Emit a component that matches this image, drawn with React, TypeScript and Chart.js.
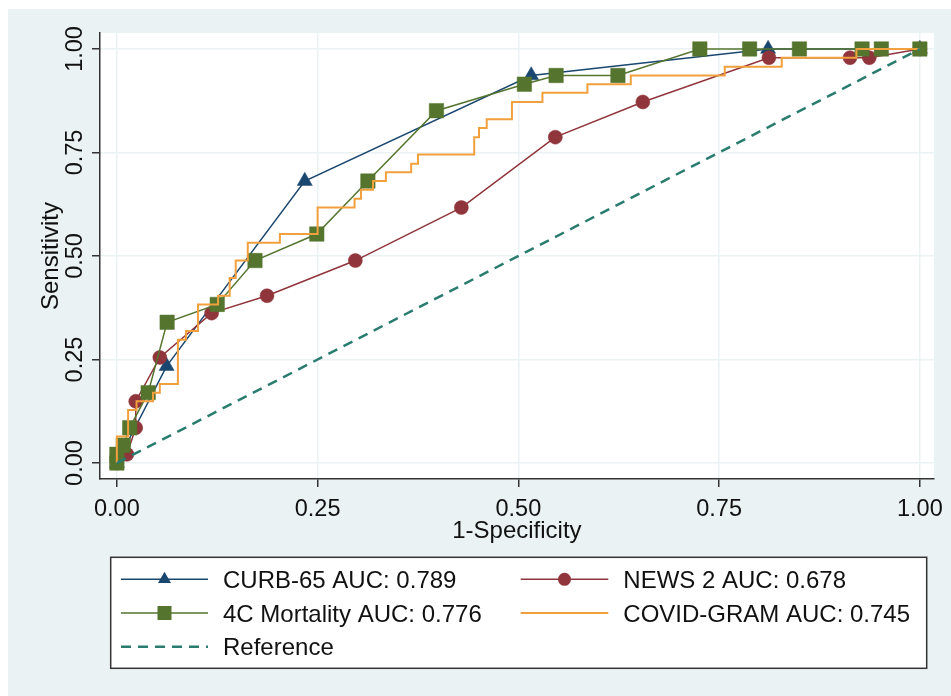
import React, { useEffect, useRef } from 'react';
import { Chart, registerables } from 'chart.js';

Chart.register(...registerables);

const FONT = '"Liberation Sans", Arial, Helvetica, sans-serif';

// ---- data (1-specificity, sensitivity) ----
const curbX = [0, 0.062, 0.234, 0.516, 0.811, 1];
const curbY = [0, 0.234, 0.681, 0.936, 1, 1];

const newsX = [0, 0.0125, 0.0235, 0.0235, 0.0535, 0.118, 0.187, 0.297, 0.429, 0.546, 0.655, 0.812, 0.913, 0.937, 1];
const newsY = [0, 0.021, 0.085, 0.149, 0.255, 0.362, 0.404, 0.489, 0.617, 0.787, 0.872, 0.979, 0.979, 0.979, 1];

const c4X = [0, 0, 0.008, 0.016, 0.039, 0.0626, 0.125, 0.172, 0.249, 0.3126, 0.398, 0.5075, 0.547, 0.624, 0.726, 0.788, 0.85, 0.928, 0.952, 1];
const c4Y = [0, 0.021, 0.043, 0.085, 0.17, 0.34, 0.383, 0.489, 0.553, 0.681, 0.851, 0.915, 0.936, 0.936, 1, 1, 1, 1, 1, 1];

const covidX = [0, 0, 0.014, 0.0245, 0.045, 0.0535, 0.076, 0.086, 0.101, 0.126, 0.1405, 0.148, 0.163, 0.203, 0.25, 0.296, 0.304, 0.319, 0.335, 0.3665, 0.375, 0.445, 0.451, 0.4606, 0.492, 0.53, 0.586, 0.64, 0.757, 0.828, 0.921, 1];
const covidY = [0, 0.064, 0.128, 0.149, 0.17, 0.191, 0.298, 0.319, 0.383, 0.404, 0.447, 0.489, 0.532, 0.553, 0.617, 0.638, 0.66, 0.681, 0.702, 0.723, 0.745, 0.787, 0.809, 0.83, 0.872, 0.894, 0.915, 0.936, 0.957, 0.979, 1, 1];

const refX = [0, 1];
const refY = [0, 1];

const tickValues = [0, 0.25, 0.5, 0.75, 1];
const xTitle = '1-Specificity';
const yTitle = 'Sensitivity';
const seriesNames = ['CURB-65 AUC: 0.789', 'NEWS 2 AUC: 0.678', '4C Mortality AUC: 0.776', 'COVID-GRAM AUC: 0.745', 'Reference'];

const COLORS = {
  curb: '#1a476f',
  news: '#90353b',
  c4: '#55752f',
  covid: '#f2a03d',
  ref: '#2a7c6f',
};

const toPoints = (xs: number[], ys: number[]) => xs.map((x, i) => ({ x, y: ys[i] }));

function drawMarker(ctx: CanvasRenderingContext2D, style: string, x: number, y: number, r: number, color: string) {
  ctx.save();
  ctx.fillStyle = color;
  ctx.beginPath();
  if (style === 'triangle') {
    for (let k = 0; k < 3; k++) {
      const a = (k * 2 * Math.PI) / 3;
      const px = x + Math.sin(a) * r;
      const py = y - Math.cos(a) * r;
      if (k === 0) ctx.moveTo(px, py);
      else ctx.lineTo(px, py);
    }
    ctx.closePath();
  } else if (style === 'rect') {
    ctx.rect(x - r, y - r, 2 * r, 2 * r);
  } else {
    ctx.arc(x, y, r, 0, Math.PI * 2);
  }
  ctx.fill();
  ctx.restore();
}

export default function App() {
  const ref = useRef<HTMLCanvasElement>(null);

  useEffect(() => {
    const canvas = ref.current;
    if (!canvas) return;

    const decor = {
      id: 'decor',
      beforeDraw(chart: any) {
        const { ctx, chartArea: a, width, height } = chart;
        ctx.save();
        ctx.fillStyle = '#eaf2f3';
        ctx.fillRect(0, 0, width, height);
        ctx.fillStyle = '#ffffff';
        ctx.fillRect(a.left, a.top, a.right - a.left, a.bottom - a.top);
        ctx.restore();
      },
      afterDraw(chart: any) {
        const { ctx } = chart;
        const ys = chart.scales.y;
        // rotated y tick labels
        ctx.save();
        ctx.font = `23.5px ${FONT}`;
        ctx.fillStyle = '#111';
        ctx.textAlign = 'center';
        ctx.textBaseline = 'middle';
        for (const t of ys.ticks) {
          const py = ys.getPixelForValue(t.value);
          ctx.save();
          ctx.translate(68, py);
          ctx.rotate(-Math.PI / 2);
          ctx.fillText(Number(t.value).toFixed(2), 0, 0);
          ctx.restore();
        }
        ctx.restore();

        // legend
        const box = { l: 102.7, t: 548.3, r: 918.7, b: 659.3 };
        ctx.save();
        ctx.fillStyle = '#ffffff';
        ctx.fillRect(box.l, box.t, box.r - box.l, box.b - box.t);
        ctx.strokeStyle = '#333';
        ctx.lineWidth = 1.5;
        ctx.strokeRect(box.l, box.t, box.r - box.l, box.b - box.t);

        const colLine = [
          [113, 200],
          [512.7, 600.3],
        ];
        const colText = [215, 615.3];
        const rowY = [570.3, 604, 637.7];
        const entries = [
          { c: 0, r: 0, color: COLORS.curb, marker: 'triangle', mr: 7.5, lw: 1.5, dash: [] as number[] },
          { c: 1, r: 0, color: COLORS.news, marker: 'circle', mr: 6.5, lw: 1.5, dash: [] as number[] },
          { c: 0, r: 1, color: COLORS.c4, marker: 'rect', mr: 7, lw: 1.5, dash: [] as number[] },
          { c: 1, r: 1, color: COLORS.covid, marker: '', mr: 0, lw: 2, dash: [] as number[] },
          { c: 0, r: 2, color: COLORS.ref, marker: '', mr: 0, lw: 2.5, dash: [10, 7] },
        ];
        entries.forEach((e, i) => {
          const [x0, x1] = colLine[e.c];
          const y = rowY[e.r];
          ctx.save();
          ctx.strokeStyle = e.color;
          ctx.lineWidth = e.lw;
          ctx.setLineDash(e.dash);
          ctx.beginPath();
          ctx.moveTo(x0, y);
          ctx.lineTo(x1, y);
          ctx.stroke();
          ctx.restore();
          if (e.marker) drawMarker(ctx, e.marker, (x0 + x1) / 2, y, e.mr, e.color);
          ctx.font = `24px ${FONT}`;
          ctx.fillStyle = '#111';
          ctx.textAlign = 'left';
          ctx.textBaseline = 'middle';
          ctx.fillText(seriesNames[i], colText[e.c], y + 2);
        });
        ctx.restore();
      },
    };

    const setTicks = (s: any) => {
      s.ticks = tickValues.map((v) => ({ value: v }));
    };

    const chart = new Chart(canvas, {
      type: 'scatter',
      data: {
        datasets: [
          {
            label: seriesNames[0],
            data: toPoints(curbX, curbY),
            showLine: true,
            borderColor: COLORS.curb,
            backgroundColor: COLORS.curb,
            borderWidth: 1.5,
            pointStyle: 'triangle',
            pointRadius: 8.7,
            pointBorderWidth: 0.5,
            order: 5,
          },
          {
            label: seriesNames[1],
            data: toPoints(newsX, newsY),
            showLine: true,
            borderColor: COLORS.news,
            backgroundColor: COLORS.news,
            borderWidth: 1.5,
            pointStyle: 'circle',
            pointRadius: 7,
            pointBorderWidth: 0.5,
            order: 4,
          },
          {
            label: seriesNames[2],
            data: toPoints(c4X, c4Y),
            showLine: true,
            borderColor: COLORS.c4,
            backgroundColor: COLORS.c4,
            borderWidth: 1.5,
            pointStyle: 'rect',
            pointRadius: 10.2,
            pointBorderWidth: 0.5,
            order: 3,
          },
          {
            label: seriesNames[3],
            data: toPoints(covidX, covidY),
            showLine: true,
            stepped: true,
            borderColor: COLORS.covid,
            backgroundColor: COLORS.covid,
            borderWidth: 2,
            pointRadius: 0,
            order: 2,
          },
          {
            label: seriesNames[4],
            data: toPoints(refX, refY),
            showLine: true,
            borderColor: COLORS.ref,
            backgroundColor: COLORS.ref,
            borderWidth: 2.5,
            borderDash: [10, 7],
            pointRadius: 0,
            order: 1,
          },
        ],
      },
      options: {
        animation: false,
        responsive: false,
        events: [],
        layout: { padding: { left: 0, top: 24, right: 16, bottom: 146 } },
        plugins: { legend: { display: false }, tooltip: { enabled: false } },
        scales: {
          x: {
            type: 'linear',
            min: -0.021,
            max: 1.0174,
            afterBuildTicks: setTicks,
            afterFit: (s: any) => {
              s.height = 71;
            },
            grid: { color: '#eaf2f3', lineWidth: 1.5, tickColor: '#333', tickLength: 8, tickWidth: 1.5 },
            border: { color: '#333', width: 1.5 },
            ticks: {
              font: { family: FONT, size: 23.5 },
              color: '#111',
              padding: 8,
              maxRotation: 0,
              autoSkip: false,
              callback: (v: any) => Number(v).toFixed(2),
            },
            title: {
              display: true,
              text: xTitle,
              font: { family: FONT, size: 24 },
              color: '#111',
              padding: { top: 0, bottom: 4 },
            },
          },
          y: {
            type: 'linear',
            min: -0.0386,
            max: 1.0386,
            afterBuildTicks: setTicks,
            afterFit: (s: any) => {
              s.width = 92;
            },
            grid: { color: '#eaf2f3', lineWidth: 1.5, tickColor: '#333', tickLength: 8, tickWidth: 1.5 },
            border: { color: '#333', width: 1.5 },
            ticks: { display: false },
            title: {
              display: true,
              text: yTitle,
              font: { family: FONT, size: 24 },
              color: '#111',
              padding: { top: 29, bottom: 0 },
            },
          },
        },
      },
      plugins: [decor],
    } as any);

    return () => chart.destroy();
  }, []);

  return (
    <div style={{ position: 'absolute', left: 8, top: 9, width: 943, height: 687, background: '#eaf2f3' }}>
      <canvas ref={ref} width={943} height={687} style={{ display: 'block', width: 943, height: 687 }} />
    </div>
  );
}
